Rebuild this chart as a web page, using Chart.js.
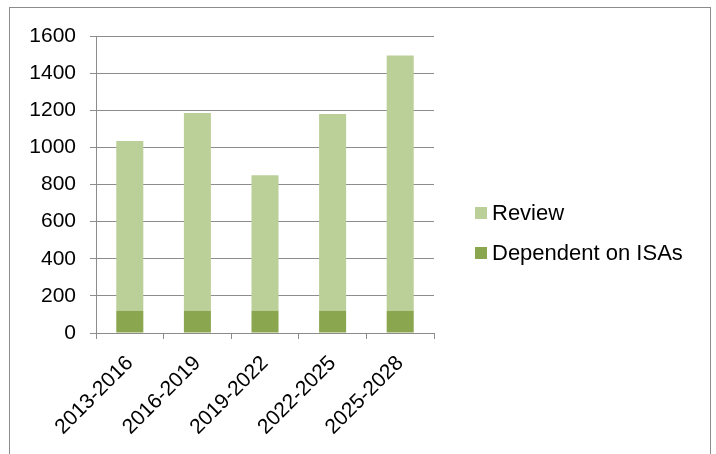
<!DOCTYPE html>
<html>
<head>
<meta charset="utf-8">
<script src="https://cdn.jsdelivr.net/npm/chart.js@4.4.1/dist/chart.umd.min.js"></script>
<style>
  html, body { margin: 0; padding: 0; background: #fff; }
  #wrap { position: relative; width: 716px; height: 454px; overflow: hidden; }
  #frame { position: absolute; left: 9px; top: 7px; width: 700px; height: 500px; border: 1px solid #8c8c8c; }
  canvas { position: absolute; left: 0; top: 0; }
</style>
</head>
<body>
<div id="wrap">
  <div id="frame"></div>
  <canvas id="chart" width="716" height="454"></canvas>
</div>
<script>
// periods on the x axis
var periods = ['2013-2016', '2016-2019', '2019-2022', '2022-2025', '2025-2028'];
// stacked values
var dependent_on_isas = [120, 120, 120, 120, 120];
var review = [915, 1065, 730, 1060, 1375];
var y_ticks = [0, 200, 400, 600, 800, 1000, 1200, 1400, 1600];

var gridColor = '#8c8c8c';
var fontFamily = '"Liberation Sans", Arial, sans-serif';

// legend drawn to match the original spacing (box 12px, text right after)
var sideLegend = {
    id: 'sideLegend',
    afterDraw: function (chart) {
        var ctx = chart.ctx;
        var sets = chart.data.datasets.slice().reverse();
        ctx.save();
        ctx.font = '22px ' + fontFamily;
        ctx.textBaseline = 'middle';
        for (var i = 0; i < sets.length; i++) {
            var y = 213 + i * 40;
            ctx.fillStyle = sets[i].backgroundColor;
            ctx.fillRect(475, y - 6, 12, 12);
            ctx.fillStyle = '#000';
            ctx.fillText(sets[i].label, 492, y + 1);
        }
        ctx.restore();
    }
};

var ctx = document.getElementById('chart').getContext('2d');
var myChart = new Chart(ctx, {
    type: 'bar',
    data: {
        labels: periods,
        datasets: [
            {
                label: 'Dependent on ISAs',
                data: dependent_on_isas,
                backgroundColor: '#8aa64e',
                categoryPercentage: 1,
                barPercentage: 0.4
            },
            {
                label: 'Review',
                data: review,
                backgroundColor: '#bbcf99',
                categoryPercentage: 1,
                barPercentage: 0.4
            }
        ]
    },
    options: {
        responsive: false,
        animation: false,
        layout: { padding: { left: 0, right: 282, top: 36, bottom: 0 } },
        plugins: {
            legend: { display: false },
            tooltip: { enabled: false }
        },
        scales: {
            x: {
                stacked: true,
                offset: true,
                grid: {
                    offset: true,
                    drawOnChartArea: false,
                    drawTicks: true,
                    tickLength: 6,
                    color: gridColor
                },
                border: { color: gridColor, width: 1 },
                ticks: {
                    color: '#000',
                    font: { family: fontFamily, size: 21 },
                    maxRotation: 45,
                    minRotation: 45,
                    padding: 12
                },
                afterFit: function (scale) { scale.height = 121; }
            },
            y: {
                stacked: true,
                min: 0,
                max: 1600,
                afterBuildTicks: function (scale) {
                    scale.ticks = y_ticks.map(function (v) { return { value: v }; });
                },
                grid: {
                    color: gridColor,
                    tickLength: 6
                },
                border: { color: gridColor, width: 1 },
                ticks: {
                    color: '#000',
                    font: { family: fontFamily, size: 21 },
                    padding: 14,
                    callback: function (value) { return String(value); }
                },
                afterFit: function (scale) { scale.width = 96; }
            }
        }
    },
    plugins: [sideLegend]
});
</script>
</body>
</html>
